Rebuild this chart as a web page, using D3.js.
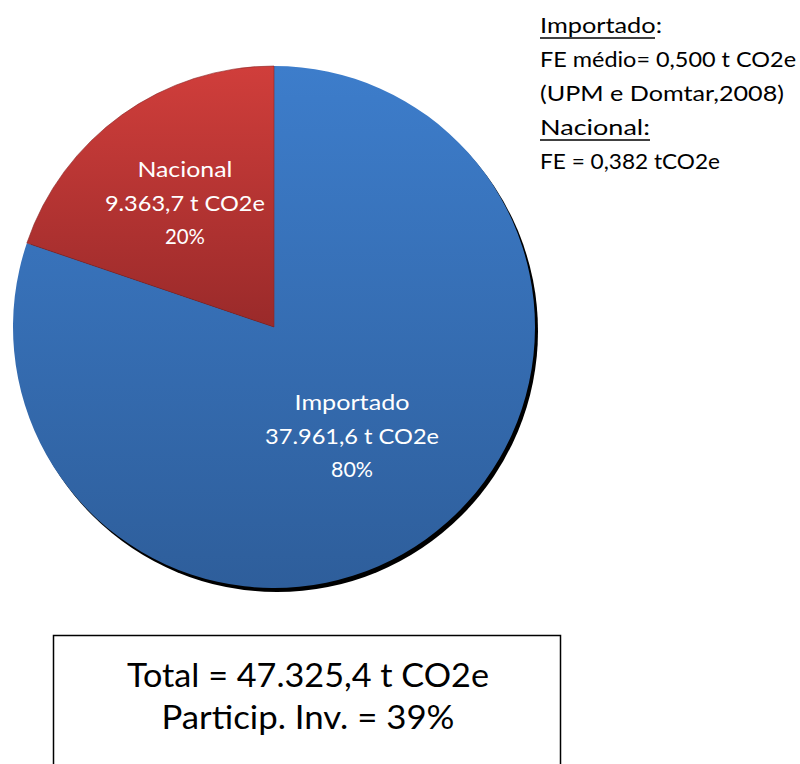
<!DOCTYPE html>
<html><head><meta charset="utf-8">
<script src="https://cdn.jsdelivr.net/npm/d3@7"></script>
<style>body{margin:0;background:#fff}svg{display:block}</style>
</head><body>
<script>
const categories = ["Importado", "Nacional"];
const values = [37961.6, 9363.7];
const valueLabels = ["37.961,6 t CO2e", "9.363,7 t CO2e"];
const percentLabels = ["80%", "20%"];
const noteLines = [
  {text: "Importado", suffix: ":", underline: true},
  {text: "FE médio= 0,500 t CO2e", suffix: "", underline: false},
  {text: "(UPM e Domtar,2008)", suffix: "", underline: false},
  {text: "Nacional:", suffix: "", underline: true},
  {text: "FE = 0,382 tCO2e", suffix: "", underline: false}
];
const totalLines = ["Total = 47.325,4 t CO2e", "Particip. Inv. = 39%"];

const W = 800, H = 764;
const FONT = "Lato, 'Open Sans', sans-serif";
const svg = d3.select("body").append("svg").attr("width", W).attr("height", H);
const defs = svg.append("defs");

const cx = 274, cy = 327, R = 261;
const gradColors = {
  Importado: ["#3d7dcb", "#2e5e9b"],
  Nacional: ["#d03e3b", "#9a2a2a"]
};
categories.forEach(c => {
  const gr = defs.append("linearGradient").attr("id", "g-" + c)
    .attr("gradientUnits", "userSpaceOnUse")
    .attr("x1", 0).attr("y1", -R).attr("x2", 0).attr("y2", c === "Nacional" ? 0 : R);
  gr.append("stop").attr("offset", "0%").attr("stop-color", gradColors[c][0]);
  gr.append("stop").attr("offset", "100%").attr("stop-color", gradColors[c][1]);
});
const blur = defs.append("filter").attr("id", "sh").attr("x", "-10%").attr("y", "-10%").attr("width", "120%").attr("height", "120%");
blur.append("feGaussianBlur").attr("stdDeviation", 0.5);

const data = categories.map((c, i) => ({name: c, value: values[i], vl: valueLabels[i], pl: percentLabels[i]}));
const pie = d3.pie().value(d => d.value).sort(null);
const arcs = pie(data);
const arc = d3.arc().innerRadius(0).outerRadius(R);

const g = svg.append("g").attr("transform", `translate(${cx},${cy})`);
// shadow
g.append("circle").attr("cx", 3).attr("cy", 4).attr("r", R).attr("fill", "#000").attr("filter", "url(#sh)");
g.selectAll("path.slice").data(arcs).join("path").attr("class", "slice")
  .attr("d", arc).attr("fill", d => `url(#g-${d.data.name})`)
  .attr("stroke", d => d.data.name === "Nacional" ? "#8a2626" : "none").attr("stroke-width", 0.6);

const labelR = {Importado: 134, Nacional: 153};
const lab = g.selectAll("g.lab").data(arcs).join("g").attr("class", "lab")
  .attr("transform", d => {
    const a = (d.startAngle + d.endAngle) / 2, r = labelR[d.data.name];
    return `translate(${r * Math.sin(a)},${-r * Math.cos(a)})`;
  });
const lw = {Importado: [115, 174, 42], Nacional: [95, 160, 40]};
lab.each(function(d) {
  const lines = [d.data.name, d.data.vl, d.data.pl];
  d3.select(this).selectAll("text").data(lines).join("text")
    .attr("x", 0).attr("y", (t, i) => (i - 1) * 33.5).attr("dy", "0.36em")
    .attr("text-anchor", "middle").attr("fill", "#fff")
    .attr("font-family", FONT).attr("font-size", 22)
    .attr("textLength", (t, i) => lw[d.data.name][i]).attr("lengthAdjust", "spacingAndGlyphs")
    .text(t => t);
});

// notes top right
const noteW = [115, 256, 244, 110, 180];
const ng = svg.append("g");
noteLines.forEach((n, i) => {
  const y = 26 + i * 34;
  const t = ng.append("text").attr("x", 540).attr("y", y).attr("dy", "0.36em")
    .attr("font-family", FONT).attr("font-size", 20.5).attr("fill", "#000");
  t.append("tspan").text(n.text);
  if (n.suffix) t.append("tspan").text(n.suffix);
  t.attr("textLength", n.suffix ? 122 : noteW[i]).attr("lengthAdjust", "spacingAndGlyphs");
  if (n.underline) {
    ng.append("line").attr("x1", 540).attr("x2", 540 + noteW[i]).attr("y1", y + 12).attr("y2", y + 12)
      .attr("stroke", "#000").attr("stroke-width", 1.3);
  }
});

// total box
svg.append("rect").attr("x", 53.5).attr("y", 635.5).attr("width", 507).attr("height", 140)
  .attr("fill", "#fff").attr("stroke", "#000").attr("stroke-width", 1.5);
const tw = [362, 293];
svg.selectAll("text.tot").data(totalLines).join("text").attr("class", "tot")
  .attr("x", 308).attr("y", (t, i) => 675 + i * 42).attr("dy", "0.36em")
  .attr("text-anchor", "middle").attr("font-family", FONT).attr("font-size", 32).attr("fill", "#000")
  .attr("textLength", (t, i) => tw[i]).attr("lengthAdjust", "spacingAndGlyphs")
  .text(t => t);
</script>
</body></html>
